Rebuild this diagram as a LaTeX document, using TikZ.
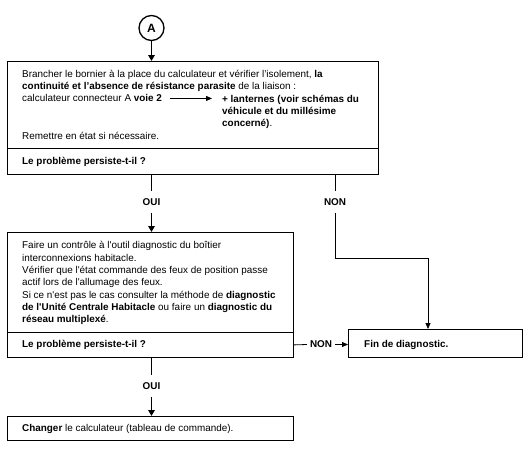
\documentclass[tikz,border=0pt]{standalone}
\usepackage{fontspec}
\setmainfont{Liberation Sans}
\usetikzlibrary{arrows.meta, positioning}

\begin{document}
\begin{tikzpicture}[
  x=1pt, y=-1pt,
  frame/.style={draw, rectangle, line width=0.8pt, anchor=north west, inner sep=0pt},
  txt/.style={anchor=north west, inner sep=0pt, align=left, font=\fontsize{9.9}{12.3}\selectfont},
  qtxt/.style={txt, font=\fontsize{9.9}{12.3}\selectfont\bfseries},
  lab/.style={font=\fontsize{9.9}{12.3}\selectfont\bfseries, inner xsep=3pt, inner ysep=7pt},
  link/.style={line width=0.8pt},
  flow/.style={line width=1.6pt, -{Triangle[length=6pt, width=6.5pt]}},
  feed/.style={line width=0.8pt, -{Triangle[length=6pt, width=5pt]}}
]
\useasboundingbox (0,0) rectangle (530,453);

% Start
\node[draw, circle, line width=1.3pt, minimum size=25pt, inner sep=0pt,
  font=\fontsize{12}{12}\selectfont\bfseries] (nA) at (151.5,28) {A};

% Boxes
\node[frame, minimum width=371pt, minimum height=87pt] (b1) at (7,61) {};
\node[frame, minimum width=371pt, minimum height=26pt] (q1) at (7,148) {};
\node[frame, minimum width=286pt, minimum height=100pt] (b2) at (7,232) {};
\node[frame, minimum width=286pt, minimum height=25pt] (q2) at (7,332) {};
\node[frame, minimum width=174pt, minimum height=28pt] (b3) at (348,329) {};
\node[frame, minimum width=286pt, minimum height=24pt] (b4) at (7,416) {};

% Texts
\node[txt] (t1) at (22,70) {Brancher le bornier à la place du calculateur et vérifier l’isolement, \textbf{la}\\
  \textbf{continuité et l’absence de résistance parasite} de la liaison :};
\node[txt] (voie) at (22,94.6) {calculateur connecteur A \textbf{voie 2}};
\node[txt] (lant) at (222,94.6) {\textbf{+ lanternes (voir schémas du}\\
  \textbf{véhicule et du millésime}\\
  \textbf{concerné)}.};
\node[txt] (rem) at (22,132.5) {Remettre en état si nécessaire.};
\node[qtxt] (qt1) at (22,157.5) {Le problème persiste-t-il ?};

\node[txt] (t2) at (22,241.5) {Faire un contrôle à l\textquotesingle outil diagnostic du boîtier\\
  interconnexions habitacle.\\
  Vérifier que l\textquotesingle état commande des feux de position passe\\
  actif lors de l\textquotesingle allumage des feux.\\
  Si ce n\textquotesingle est pas le cas consulter la méthode de \textbf{diagnostic}\\
  \textbf{de l\textquotesingle Unité Centrale Habitacle} ou faire un \textbf{diagnostic du}\\
  \textbf{réseau multiplexé}.};
\node[qtxt] (qt2) at (22,340) {Le problème persiste-t-il ?};
\node[qtxt] (fin) at (364,340) {Fin de diagnostic.};
\node[txt] (t4) at (22,424) {\textbf{Changer} le calculateur (tableau de commande).};

% Labels
\node[lab] (oui1) at (151.5,202) {OUI};
\node[lab] (non1) at (335,202) {NON};
\node[lab] (non2) at (321,344.5) {NON};
\node[lab] (oui2) at (151.5,386) {OUI};
\coordinate (bend) at (428,258);

% Edges
\draw[flow] (nA) -- (nA |- b1.north);
\draw[feed, shorten <=8pt, shorten >=10pt] (voie.east) -- (voie.east -| lant.west);

\draw[link] (oui1 |- q1.south) -- (oui1.north);
\draw[flow] (oui1.south) -- (oui1 |- b2.north);

\draw[link] (non1 |- q1.south) -- (non1.north);
\draw[feed] (non1.south) |- (bend) -- (bend |- b3.north);

\draw[link] (q2.east) -- (non2.west);
\draw[feed] (non2.east) -- (non2.east -| b3.west);

\draw[link] (oui2 |- q2.south) -- (oui2.north);
\draw[flow] (oui2.south) -- (oui2 |- b4.north);

\end{tikzpicture}
\end{document}
